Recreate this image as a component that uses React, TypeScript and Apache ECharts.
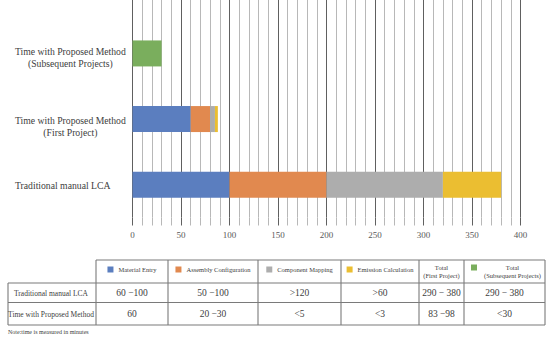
import React, { useEffect, useRef } from "react";
import * as echarts from "echarts";

// ---- chart data ----
const categories = [
  "Traditional manual LCA",
  "Time with Proposed Method\n(First Project)",
  "Time with Proposed Method\n(Subsequent Projects)",
];
const seriesNames = [
  "Material Entry",
  "Assembly Configuration",
  "Component Mapping",
  "Emission Calculation",
  "Total (Subsequent Projects)",
];
const materialEntry = [100, 60, null];
const assemblyConfiguration = [100, 20, null];
const componentMapping = [120, 5, null];
const emissionCalculation = [60, 3, null];
const subsequentTotal = [null, null, 30];
const xMin = 0;
const xMax = 400;
const xInterval = 50;

// ---- table data ----
const tableHeaders = [
  "Material Entry",
  "Assembly Configuration",
  "Component Mapping",
  "Emission Calculation",
  "Total\n(First Project)",
  "Total\n(Subsequent Projects)",
];
const headerSwatchIndex = [0, 1, 2, 3, -1, 4];
const tableRowLabels = ["Traditional manual LCA", "Time with Proposed Method"];
const traditionalRow = ["60 \u2212100", "50 \u2212100", ">120", ">60", "290 \u2212 380", "290 \u2212 380"];
const proposedRow = ["60", "20 \u221230", "<5", "<3", "83 \u221298", "<30"];
const noteText = "Note:time is measured in minutes";

const colors = ["#5B7EBF", "#E1894F", "#ADADAD", "#EBBE31", "#7AAE5D"];
const FONT = "'Liberation Serif', 'Times New Roman', serif";
const TEXT = "#404040";

export default function App() {
  const ref = useRef<HTMLDivElement>(null);

  useEffect(() => {
    document.body.style.margin = "0";
    if (!ref.current) return;
    const chart = echarts.init(ref.current, undefined, { renderer: "svg" });

    const cvs = document.createElement("canvas");
    const ctx = cvs.getContext("2d")!;
    const measure = (t: string, size: number) => {
      ctx.font = `${size}px 'Liberation Serif'`;
      return ctx.measureText(t).width;
    };

    // table layout
    const colX = [8, 96, 168, 258, 341, 419, 464, 545];
    const rowY = [260, 283, 302.5, 325];
    const border = "#7a7a7a";
    const bw = 1.1;
    const g: any[] = [];
    const line = (x1: number, y1: number, x2: number, y2: number) =>
      g.push({ type: "line", silent: true, shape: { x1, y1, x2, y2 }, style: { stroke: border, lineWidth: bw } });
    line(colX[1], rowY[0], colX[7], rowY[0]);
    for (let r = 1; r < rowY.length; r++) line(colX[0], rowY[r], colX[7], rowY[r]);
    line(colX[0], rowY[1], colX[0], rowY[3]);
    for (let c = 1; c < colX.length; c++) line(colX[c], rowY[0], colX[c], rowY[3]);

    const txt = (text: string, x: number, y: number, size: number, align = "center", lh?: number) =>
      g.push({
        type: "text",
        silent: true,
        style: {
          text,
          x,
          y,
          fill: TEXT,
          fontSize: size,
          fontFamily: FONT,
          align,
          textAlign: align,
          verticalAlign: "middle",
          textVerticalAlign: "middle",
          lineHeight: lh ?? size * 1.2,
        },
      });

    const hs = 6.5;
    tableHeaders.forEach((h, i) => {
      const l = colX[i + 1];
      const r = colX[i + 2];
      const si = headerSwatchIndex[i];
      if (h.indexOf("\n") < 0) {
        const tw = measure(h, hs);
        const gw = 6 + 5 + tw;
        const sx = (l + r) / 2 - gw / 2;
        g.push({ type: "rect", silent: true, shape: { x: sx, y: 266.5, width: 6, height: 6 }, style: { fill: colors[si] } });
        txt(h, sx + 11, 269.5, hs, "left");
      } else if (si >= 0) {
        g.push({ type: "rect", silent: true, shape: { x: l + 7, y: 264.5, width: 6, height: 6 }, style: { fill: colors[si] } });
        txt(h, (l + 16 + r) / 2, 271, hs, "center", 8);
      } else {
        txt(h, (l + r) / 2, 271, hs, "center", 8);
      }
    });
    const rows = [traditionalRow, proposedRow];
    rows.forEach((row, ri) => {
      const cy = (rowY[ri + 1] + rowY[ri + 2]) / 2 + 0.5;
      txt(tableRowLabels[ri], (colX[0] + colX[1]) / 2 - 1, cy, 7.5);
      row.forEach((v, ci) => {
        txt(v, (colX[ci + 1] + colX[ci + 2]) / 2, cy, 9.5);
      });
    });
    txt(noteText, 8, 331.5, 6, "left");

    const seriesData = [materialEntry, assemblyConfiguration, componentMapping, emissionCalculation, subsequentTotal];

    chart.setOption({
      animation: false,
      textStyle: { fontFamily: FONT },
      grid: {
        left: 132.5,
        right: 29.5,
        top: -45,
        bottom: 120.5,
        containLabel: false,
        outerBoundsMode: "none",
      },
      xAxis: {
        type: "value",
        min: xMin,
        max: xMax,
        interval: xInterval,
        axisLine: { show: false },
        axisTick: { show: true, length: 8, lineStyle: { color: "#606060", width: 1 } },
        minorTick: { show: true, splitNumber: 5, length: 8, lineStyle: { color: "#b8b8b8", width: 1 } },
        splitLine: { show: true, lineStyle: { color: "#606060", width: 1 } },
        minorSplitLine: { show: true, lineStyle: { color: "#b8b8b8", width: 1 } },
        axisLabel: { color: "#595959", fontSize: 9, fontFamily: FONT, margin: 12.5 },
      },
      yAxis: {
        type: "category",
        data: [...categories, ""],
        axisLine: { show: false },
        axisTick: { show: false },
        splitLine: { show: false },
        axisLabel: {
          align: "left",
          margin: 117.5,
          color: TEXT,
          fontSize: 9.7,
          fontFamily: FONT,
          formatter: (v: string, idx: number) => {
            if (!v) return "";
            const body = v
              .split("\n")
              .map((s) => `{c|${s}}`)
              .join("\n");
            return `{sp${idx}| }\n` + body;
          },
          rich: {
            c: { align: "center", fontSize: 9.7, fontFamily: FONT, color: TEXT, lineHeight: 11.6 },
            sp0: { fontSize: 1, lineHeight: 2 },
            sp1: { fontSize: 1, lineHeight: 15 },
            sp2: { fontSize: 1, lineHeight: 8 },
          },
        },
      },
      series: seriesNames.map((name, i) => ({
        name,
        type: "bar",
        stack: "total",
        barWidth: 26,
        data: seriesData[i],
        itemStyle: { color: colors[i] },
      })),
      graphic: g,
    });

    return () => chart.dispose();
  }, []);

  return <div ref={ref} style={{ width: 550, height: 338 }} />;
}
